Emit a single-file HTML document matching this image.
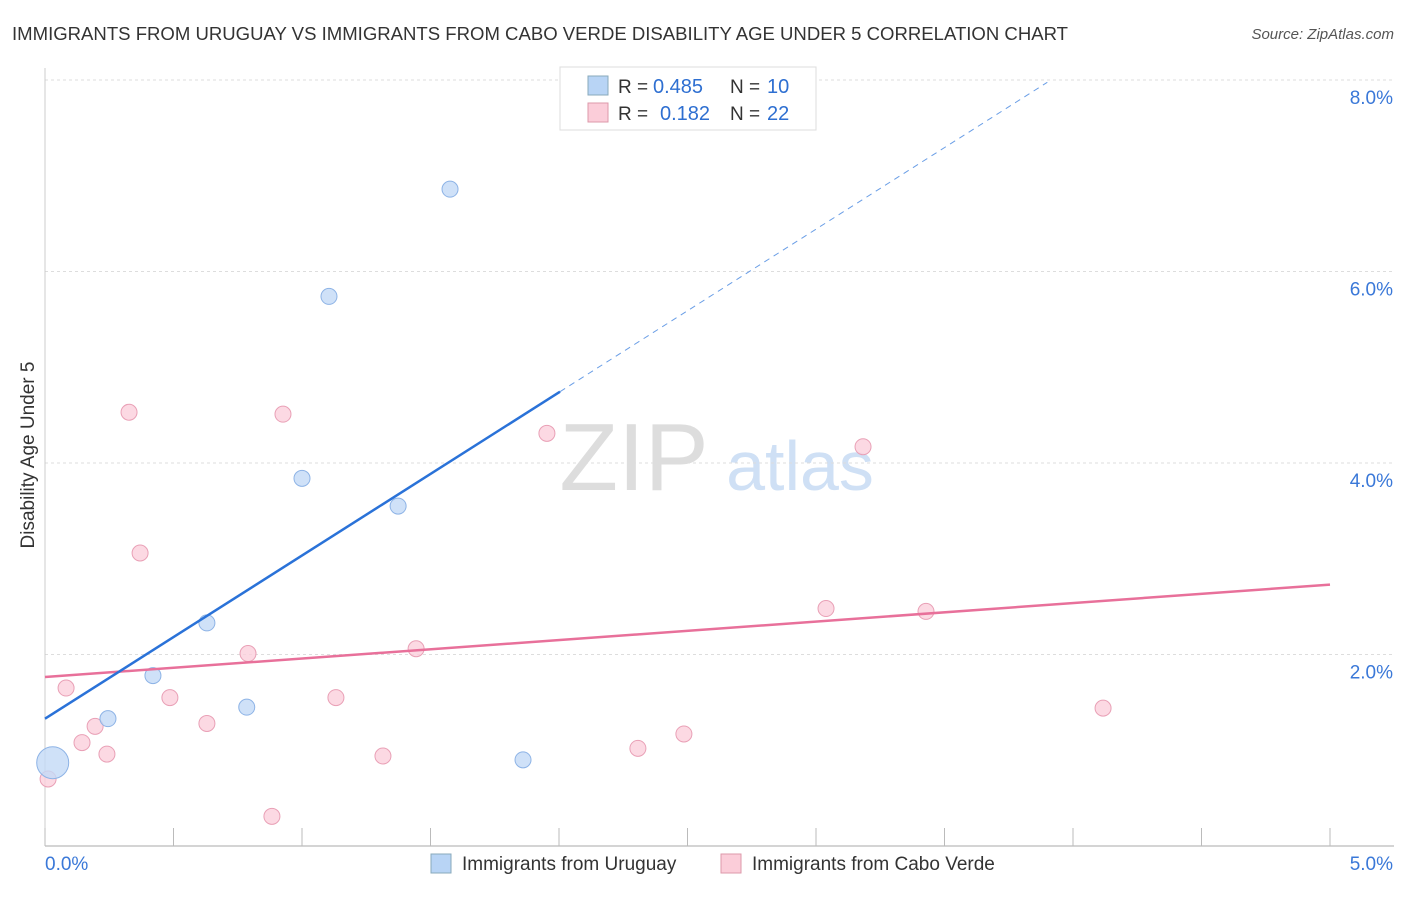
<!DOCTYPE html>
<html><head><meta charset="utf-8"><style>
body{margin:0;background:#fff;font-family:"Liberation Sans",sans-serif;}
svg text{font-family:"Liberation Sans",sans-serif;}
</style></head><body>
<svg id="c" width="1406" height="892">
<text x="12" y="40" font-size="18" fill="#333" textLength="1056" lengthAdjust="spacingAndGlyphs">IMMIGRANTS FROM URUGUAY VS IMMIGRANTS FROM CABO VERDE DISABILITY AGE UNDER 5 CORRELATION CHART</text>
<text x="1394" y="39" font-size="15" fill="#555" text-anchor="end" font-style="italic">Source: ZipAtlas.com</text>
<text x="34" y="455" font-size="19" fill="#333" text-anchor="middle" transform="rotate(-90 34 455)">Disability Age Under 5</text>
<g><text x="634" y="490" font-size="96" fill="#ddd" font-family="Liberation Serif" text-anchor="middle">ZIP</text><text x="800" y="490" font-size="70" fill="#cfe0f5" text-anchor="middle">atlas</text></g>
<g id="grid"></g><g id="marks"></g>
<g>
<rect x="560" y="67" width="256" height="63" fill="#fff" stroke="#ddd"/>
<rect x="588" y="76" width="20" height="19" fill="#b8d4f5" stroke="#8ab"/>
<rect x="588" y="103" width="20" height="19" fill="#fbcdd9" stroke="#d9a"/>
<text x="618" y="93" font-size="19" fill="#333">R =</text>
<text x="653" y="93" font-size="20" fill="#2e6fd1">0.485</text>
<text x="730" y="93" font-size="19" fill="#333">N =</text>
<text x="767" y="93" font-size="20" fill="#2e6fd1">10</text>
<text x="618" y="120" font-size="19" fill="#333">R =</text>
<text x="660" y="120" font-size="20" fill="#2e6fd1">0.182</text>
<text x="730" y="120" font-size="19" fill="#333">N =</text>
<text x="767" y="120" font-size="20" fill="#2e6fd1">22</text>
</g>
<g>
<rect x="431" y="854" width="20" height="19" fill="#b8d4f5" stroke="#8ab"/>
<text x="462" y="870" font-size="19" fill="#333">Immigrants from Uruguay</text>
<rect x="721" y="854" width="20" height="19" fill="#fbcdd9" stroke="#d9a"/>
<text x="752" y="870" font-size="19" fill="#333">Immigrants from Cabo Verde</text>
</g>
</svg>
<script>
const xTicks=[0,5];
const yTicks=[2,4,6,8];
const blueX=[0.03,0.245,0.42,0.63,0.785,1.0,1.105,1.374,1.576,1.86];
const blueY=[0.87,1.33,1.78,2.33,1.45,3.84,5.74,3.55,6.86,0.90];
const pinkX=[0.012,0.082,0.144,0.195,0.241,0.327,0.37,0.486,0.63,0.79,0.926,0.883,1.132,1.315,1.444,1.953,2.307,2.486,3.039,3.183,3.428,4.117];
const pinkY=[0.70,1.65,1.08,1.25,0.96,4.53,3.06,1.55,1.28,2.01,4.51,0.31,1.55,0.94,2.06,4.31,1.02,1.17,2.48,4.17,2.45,1.44];
const blueTrend=[1.33,1.704];
const pinkTrend=[1.765,0.193];
const X=v=>45+v*257, Y=v=>846-v*95.75;
const ns="http://www.w3.org/2000/svg";
const g=document.getElementById('grid'),m=document.getElementById('marks');
function mk(p,t,a){const e=document.createElementNS(ns,t);for(const k in a)e.setAttribute(k,a[k]);p.appendChild(e);return e;}
yTicks.forEach(v=>{
const l=mk(g,'line',{x1:45,x2:1394,y1:Y(v),y2:Y(v),stroke:'#ddd','stroke-dasharray':'3,3'});


const t=mk(g,'text',{x:1393,y:Y(v)+24,'font-size':19,fill:'#3a78d8','text-anchor':'end'});t.textContent=v.toFixed(1)+'%';


});
const ax=mk(g,'line',{x1:45,x2:1394,y1:846,y2:846,stroke:'#aaa'});


const ay=mk(g,'line',{x1:45,x2:45,y1:68,y2:846,stroke:'#ccc'});


for(let i=0;i<=10;i++){const l=mk(g,'line',{x1:X(i*0.5),x2:X(i*0.5),y1:828,y2:846,stroke:'#bbb'});

}
xTicks.forEach((v,i)=>{const t=mk(g,'text',{x:i?1393:45,y:870,'font-size':19,fill:'#3a78d8','text-anchor':i?'end':'start'});t.textContent=v.toFixed(1)+'%';

});
pinkX.forEach((x,i)=>{const c=mk(m,'circle',{cx:X(x),cy:Y(pinkY[i]),r:8,fill:'#fbd0dc',stroke:'#e9a0b6','fill-opacity':0.8});

});
blueX.forEach((x,i)=>{const c=mk(m,'circle',{cx:X(x),cy:Y(blueY[i]),r:i==0?16:8,fill:'#c3d9f6',stroke:'#8db3e6','fill-opacity':0.8});

});
const pe=5;
const pl=mk(m,'line',{x1:X(0),y1:Y(pinkTrend[0]),x2:X(pe),y2:Y(pinkTrend[0]+pinkTrend[1]*pe),stroke:'#e8709a','stroke-width':2.5});


const bs=2.004,bd=3.9;
const bl=mk(m,'line',{x1:X(0),y1:Y(blueTrend[0]),x2:X(bs),y2:Y(blueTrend[0]+blueTrend[1]*bs),stroke:'#2a72d8','stroke-width':2.5});


const bdl=mk(m,'line',{x1:X(bs),y1:Y(blueTrend[0]+blueTrend[1]*bs),x2:X(bd),y2:Y(blueTrend[0]+blueTrend[1]*bd),stroke:'#6a9ee6','stroke-width':1,'stroke-dasharray':'6,5'});


</script>
</body></html>
